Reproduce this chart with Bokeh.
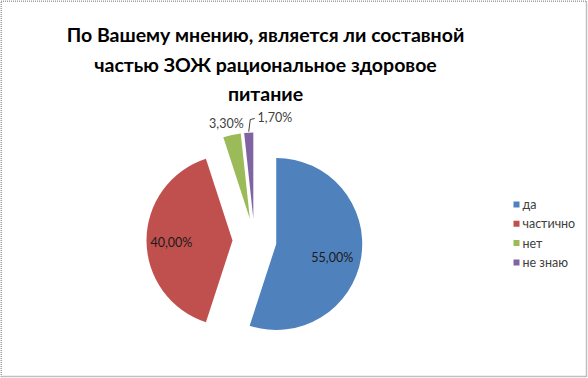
import math
from bokeh.plotting import figure
from bokeh.models import Range1d, ColumnDataSource
from bokeh.core.properties import value
from bokeh.embed import file_html
from bokeh.resources import INLINE

# ---- data ----
categories = ["да", "частично", "нет", "не знаю"]
shares = [55.0, 40.0, 3.3, 1.7]
pct_labels = ["55,00%", "40,00%", "3,30%", "1,70%"]
colors = ["#4F81BD", "#C0504D", "#9BBB59", "#8064A2"]
title_lines = ["По Вашему мнению, является ли составной",
               "частью ЗОЖ рациональное здоровое",
               "питание"]

W, H = 588, 378
p = figure(width=W, height=H, output_backend="svg", toolbar_location=None,
           x_range=Range1d(0, W), y_range=Range1d(0, H),
           min_border=0, outline_line_color=None)
p.axis.visible = False
p.grid.visible = False
p.background_fill_color = "white"
p.border_fill_color = "white"

def Y(py):
    return H - py

# pie geometry (style)
cx, cy = 254, Y(240)
R = 86
explode = 22
label_factor = [0.66, 0.71, 1.14, 1.18]
label_nudge = [(0, -5), (0, -2), (-3, 0), (27, 0)]
label_colors = ["#1a1a1a", "#1a1a1a", "#404040", "#404040"]

total = sum(shares)
starts, ends, xs, ys, mids = [], [], [], [], []
acc = 0.0
for v in shares:
    t0 = acc / total * 360.0
    t1 = (acc + v) / total * 360.0
    acc += v
    mid = math.radians((t0 + t1) / 2)
    mids.append(mid)
    xs.append(cx + explode * math.sin(mid))
    ys.append(cy + explode * math.cos(mid))
    starts.append(math.radians(90 - t1))
    ends.append(math.radians(90 - t0))

src = ColumnDataSource(dict(x=xs, y=ys, start=starts, end=ends, color=colors))
p.wedge(x="x", y="y", radius=R, start_angle="start", end_angle="end",
        fill_color="color", line_color=None, source=src)

lx, ly = [], []
for i, m in enumerate(mids):
    lx.append(xs[i] + label_factor[i] * R * math.sin(m) + label_nudge[i][0])
    ly.append(ys[i] + label_factor[i] * R * math.cos(m) + label_nudge[i][1])
p.text(x=lx, y=ly, text=pct_labels, text_font=value("Lato"), text_font_size="12.5px",
       text_color=label_colors, text_align="center", text_baseline="middle")

# leader line for smallest slice
m = mids[3]
x0 = xs[3] + R * math.sin(m)
y0 = ys[3] + R * math.cos(m)
p.line(x=[x0, x0 + 1.5, x0 + 6], y=[y0 + 1, Y(119), Y(118)], line_color="#404040", line_width=1)

# title
title_base = [34, 64, 93]
p.text(x=[265] * 3, y=[Y(b) for b in title_base], text=title_lines,
       text_font=value("Lato"), text_font_style="bold", text_font_size="19.5px",
       text_color="black", text_align="center", text_baseline="alphabetic")

# legend
leg_y = [Y(204), Y(223.3), Y(242.6), Y(262)]
p.rect(x=[516] * 4, y=leg_y, width=6, height=6, fill_color=colors, line_color=None)
p.text(x=[522] * 4, y=leg_y, text=categories, text_font=value("Lato"), text_font_size="12.5px",
       text_color="#404040", text_align="left", text_baseline="middle")

# dotted chart border
p.line(x=[0.5, 586, 586, 0.5, 0.5], y=[Y(0.5), Y(0.5), Y(376), Y(376), Y(0.5)],
       line_color="#808080", line_width=1.5, line_dash="1 1")

open("out.html", "w").write(file_html(p, INLINE))
